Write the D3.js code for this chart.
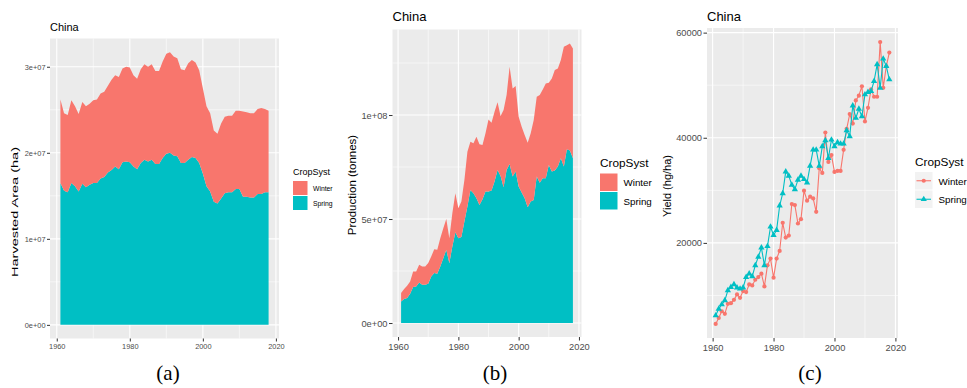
<!DOCTYPE html>
<html>
<head>
<meta charset="utf-8">
<script src="https://cdn.jsdelivr.net/npm/d3@7"></script>
<style>
  body { margin: 0; background: #fff; }
  text { font-family: "Liberation Sans", Arial, sans-serif; }
  text.caption { font-family: "Liberation Serif", "Times New Roman", serif; }
</style>
</head>
<body>
<svg id="chart" width="967" height="388"></svg>
<script>
// ---- data ----
const years = [1961,1962,1963,1964,1965,1966,1967,1968,1969,1970,1971,1972,1973,1974,1975,1976,1977,1978,1979,1980,
  1981,1982,1983,1984,1985,1986,1987,1988,1989,1990,1991,1992,1993,1994,1995,1996,1997,1998,1999,2000,
  2001,2002,2003,2004,2005,2006,2007,2008,2009,2010,2011,2012,2013,2014,2015,2016,2017,2018];

// harvested area, million ha
const areaWinter = [9.7,9.0,9.0,9.6,9.3,9.0,9.5,9.4,9.4,9.6,9.7,9.9,9.9,10.1,10.5,10.6,10.7,10.9,11.0,11.0,
  10.6,10.5,10.9,11.1,11.0,11.1,10.8,10.8,11.2,11.6,11.7,11.5,11.4,10.9,10.8,11.2,11.3,11.1,10.8,9.9,
  9.3,9.1,8.3,8.1,8.7,8.9,8.9,8.9,9.1,9.1,9.9,9.8,9.8,9.8,9.9,10.0,9.7,9.5];
const areaSpring = [16.5,15.6,15.4,16.5,16.1,15.5,16.4,16.0,16.3,16.5,16.5,17.0,17.2,17.7,18.0,18.4,18.1,18.9,19.0,18.9,
  18.4,18.1,18.8,19.2,19.0,19.2,18.7,18.7,19.4,19.9,20.0,19.7,19.6,18.8,18.8,19.2,19.5,19.4,18.8,17.6,
  16.1,15.5,14.3,14.1,14.7,15.3,15.4,15.4,15.8,15.8,14.9,14.9,14.8,14.8,15.2,15.2,15.4,15.4];

// production, million tonnes
const prodWinter = [4.0,4.8,5.9,5.9,7.5,7.2,8.5,8.8,8.8,9.9,9.6,11.5,11.5,13.6,14.4,14.8,12.0,16.0,18.7,14.4,
  17.1,20.0,26.4,23.2,24.0,29.6,29.2,26.1,28.0,34.7,32.6,33.6,32.5,28.8,37.1,36.0,46.7,42.4,41.1,33.6,
  31.7,30.4,31.0,32.8,38.4,38.4,42.1,42.7,45.6,39.5,44.8,48.3,47.2,47.2,57.6,50.1,51.5,52.8];
const prodSpring = [10.4,11.5,12.0,14.1,17.3,17.6,19.5,18.4,18.4,18.9,22.4,24.0,23.7,27.2,31.2,35.2,28.8,36.8,43.7,40.8,
  41.3,48.8,56.0,64.0,62.4,60.0,56.8,59.5,63.2,63.2,63.7,68.0,73.6,70.7,65.3,73.6,76.5,70.4,72.8,65.6,
  62.7,60.0,55.7,58.4,59.2,70.4,67.5,69.6,69.6,76.0,72.8,73.3,75.2,79.2,75.2,83.5,82.9,79.2];

// yield, hg/ha
const yieldWinter = [4590,5730,7000,6500,8410,8540,9170,10190,9550,10830,10640,12100,11910,12990,13500,14140,11720,15730,17010,13380,
  17010,18470,23820,21020,21400,27390,27200,23690,24520,29940,28030,28790,28470,25920,34200,33300,41000,35400,36700,33500,
  33700,33700,37700,41700,44500,42700,47100,48000,49800,43100,45700,49200,47800,47800,58200,49500,53600,56200];
const yieldSpring = [6180,7450,8280,9050,10960,11590,12100,11470,11270,11470,13500,14140,13630,15730,17330,19110,15730,19360,23060,21470,
  22420,27070,29430,33570,32740,31020,30190,31980,32740,32100,31470,34650,37710,37710,34650,38340,39490,36120,39620,38340,
  39110,38850,38850,41400,40260,46120,43760,45480,44080,48220,48660,48850,50760,53950,49490,55030,53630,51080];

const seriesNames = ["Winter", "Spring"];
const colors = { Winter: "#F8766D", Spring: "#00BFC4" };

const xTicks = [1960, 1980, 2000, 2020];
const xMinor = [1970, 1990, 2010];
const areaTicks = [0, 1e7, 2e7, 3e7];
const areaMinor = [5e6, 1.5e7, 2.5e7];
const prodTicks = [0, 5e7, 1e8];
const prodMinor = [2.5e7, 7.5e7, 1.25e8];
const yieldTicks = [20000, 40000, 60000];
const yieldMinor = [10000, 30000, 50000];

// ---- helpers ----
const svg = d3.select("#chart");
svg.append("rect").attr("width", 967).attr("height", 388).attr("fill", "#fff");

function expand([lo, hi], f = 0.05) {
  const d = (hi - lo) * f;
  return [lo - d, hi + d];
}

// ggplot style scientific labels: 1e+07
function sci(v) {
  const [m, e] = v.toExponential(0).split("e");
  return `${m}e${e[0]}${e.slice(1).padStart(2, "0")}`;
}

function drawPanel(o) {
  const g = svg.append("g");
  const x = d3.scaleLinear().domain(expand(d3.extent(years))).range([o.l, o.r]);
  const y = d3.scaleLinear().domain(expand(o.yExtent)).range([o.b, o.t]);

  g.append("rect")
    .attr("x", o.l).attr("y", o.t)
    .attr("width", o.r - o.l).attr("height", o.b - o.t)
    .attr("fill", "#EBEBEB");

  const grid = (vals, w, vertical) =>
    g.append("g").attr("stroke", "#fff").attr("stroke-width", w)
      .selectAll("line").data(vals).join("line")
      .attr("x1", (d) => (vertical ? x(d) : o.l))
      .attr("x2", (d) => (vertical ? x(d) : o.r))
      .attr("y1", (d) => (vertical ? o.t : y(d)))
      .attr("y2", (d) => (vertical ? o.b : y(d)));
  grid(xMinor, 0.55, true);
  grid(o.yMinor, 0.55, false);
  grid(xTicks, 1.1, true);
  grid(o.yTicks, 1.1, false);

  const marks = g.append("g");

  const styleAxis = (a) => {
    a.select(".domain").remove();
    a.selectAll(".tick line").attr("stroke", "#333333");
    a.selectAll(".tick text")
      .attr("fill", "#4D4D4D")
      .attr("font-size", o.tickFont);
  };

  g.append("g")
    .attr("transform", `translate(0,${o.b})`)
    .call(d3.axisBottom(x).tickValues(xTicks).tickFormat(d3.format("d"))
      .tickSize(o.tickLen).tickPadding(2.5))
    .call(styleAxis);

  g.append("g")
    .attr("transform", `translate(${o.l},0)`)
    .call(d3.axisLeft(y).tickValues(o.yTicks).tickFormat(o.fmt)
      .tickSize(o.tickLen).tickPadding(1.5))
    .call(styleAxis);

  g.append("text")
    .attr("x", o.l).attr("y", o.titleY)
    .attr("font-size", o.titleFont)
    .attr("fill", "#000")
    .text("China");

  const yl = g.append("text")
    .attr("transform", `translate(${o.labelX},${o.labelY}) rotate(-90)`)
    .attr("text-anchor", "middle")
    .attr("font-size", o.labelFont)
    .attr("fill", "#000")
    .text(o.yLabel);
  if (o.labelLen) yl.attr("textLength", o.labelLen).attr("lengthAdjust", "spacingAndGlyphs");

  return { g, marks, x, y };
}

function stackedArea(p, winter, spring, unit) {
  const rows = years.map((yr, i) => ({ year: yr, Winter: winter[i] * unit, Spring: spring[i] * unit }));
  const stacked = d3.stack().keys(["Spring", "Winter"])(rows);
  const area = d3.area()
    .x((d) => p.x(d.data.year))
    .y0((d) => p.y(d[0]))
    .y1((d) => p.y(d[1]));
  p.marks.selectAll("path").data(stacked).join("path")
    .attr("fill", (s) => colors[s.key])
    .attr("d", area);
}

function legendFill(lg) {
  const g = svg.append("g");
  g.append("text").attr("x", lg.x).attr("y", lg.titleY)
    .attr("font-size", lg.titleFont).attr("fill", "#000").text("CropSyst");
  seriesNames.forEach((name, i) => {
    const ky = lg.keyY + i * lg.keyH;
    g.append("rect").attr("x", lg.x).attr("y", ky)
      .attr("width", lg.keyW).attr("height", lg.keyH - 1)
      .attr("fill", colors[name]);
    g.append("text").attr("x", lg.x + lg.keyW + lg.gap).attr("y", ky + lg.keyH / 2)
      .attr("dy", "0.35em").attr("font-size", lg.labelFont).attr("fill", "#000").text(name);
  });
}

const symbols = { Winter: d3.symbolCircle, Spring: d3.symbolTriangle };

// ---- (a) harvested area ----
const pa = drawPanel({
  l: 50, r: 279, t: 38.5, b: 338.5,
  yExtent: [0, d3.max(years, (_, i) => (areaWinter[i] + areaSpring[i]) * 1e6)],
  yTicks: areaTicks, yMinor: areaMinor, fmt: sci,
  tickFont: 7.4, tickLen: 3, titleFont: 11, titleY: 31,
  yLabel: "Harvested Area (ha)", labelX: 18, labelY: 212, labelFont: 9.5, labelLen: 130
});
stackedArea(pa, areaWinter, areaSpring, 1e6);
legendFill({ x: 293, titleY: 175, titleFont: 9, keyY: 181, keyW: 14.5, keyH: 15, gap: 5.5, labelFont: 6.8 });

// ---- (b) production ----
const pb = drawPanel({
  l: 392.5, r: 581.5, t: 29.5, b: 337,
  yExtent: [0, d3.max(years, (_, i) => (prodWinter[i] + prodSpring[i]) * 1e6)],
  yTicks: prodTicks, yMinor: prodMinor, fmt: sci,
  tickFont: 9.3, tickLen: 3.5, titleFont: 13, titleY: 21,
  yLabel: "Production (tonnes)", labelX: 356, labelY: 185, labelFont: 11.5
});
stackedArea(pb, prodWinter, prodSpring, 1e6);
legendFill({ x: 600, titleY: 167, titleFont: 11.8, keyY: 173.5, keyW: 17.5, keyH: 18.5, gap: 6, labelFont: 9.8 });

// ---- (c) yield ----
const pc = drawPanel({
  l: 707, r: 898, t: 28, b: 338,
  yExtent: d3.extent(yieldWinter.concat(yieldSpring)),
  yTicks: yieldTicks, yMinor: yieldMinor, fmt: d3.format("d"),
  tickFont: 9.3, tickLen: 3.5, titleFont: 13, titleY: 20.5,
  yLabel: "Yield (hg/ha)", labelX: 671, labelY: 186, labelFont: 11
});

const yieldSeries = [
  { key: "Winter", values: yieldWinter },
  { key: "Spring", values: yieldSpring }
];
const line = d3.line().x((d) => pc.x(d.year)).y((d) => pc.y(d.v));
yieldSeries.forEach((s) => {
  const pts = years.map((yr, i) => ({ year: yr, v: s.values[i] }));
  pc.marks.append("path")
    .attr("d", line(pts))
    .attr("fill", "none")
    .attr("stroke", colors[s.key])
    .attr("stroke-width", 1.1);
  pc.marks.append("g").selectAll("path").data(pts).join("path")
    .attr("transform", (d) => `translate(${pc.x(d.year)},${pc.y(d.v)})`)
    .attr("d", d3.symbol(symbols[s.key], s.key === "Winter" ? 14 : 17))
    .attr("fill", colors[s.key]);
});

// legend for (c): line + point keys on grey
{
  const g = svg.append("g");
  const lx = 915, ky0 = 172, kw = 17.5, kh = 18.5;
  g.append("text").attr("x", lx).attr("y", 166).attr("font-size", 11.8).attr("fill", "#000").text("CropSyst");
  yieldSeries.forEach((s, i) => {
    const ky = ky0 + i * kh;
    g.append("rect").attr("x", lx).attr("y", ky).attr("width", kw).attr("height", kh - 1).attr("fill", "#F2F2F2");
    g.append("line").attr("x1", lx + 1.5).attr("x2", lx + kw - 1.5)
      .attr("y1", ky + (kh - 1) / 2).attr("y2", ky + (kh - 1) / 2)
      .attr("stroke", colors[s.key]).attr("stroke-width", 1.1);
    g.append("path")
      .attr("transform", `translate(${lx + kw / 2},${ky + (kh - 1) / 2})`)
      .attr("d", d3.symbol(symbols[s.key], s.key === "Winter" ? 14 : 17))
      .attr("fill", colors[s.key]);
    g.append("text").attr("x", lx + kw + 6).attr("y", ky + kh / 2)
      .attr("dy", "0.35em").attr("font-size", 9.8).attr("fill", "#000").text(s.key);
  });
}

// ---- captions ----
[["(a)", 168], ["(b)", 495], ["(c)", 810]].forEach(([t, cx]) => {
  svg.append("text")
    .attr("class", "caption")
    .attr("x", cx).attr("y", 380)
    .attr("text-anchor", "middle")
    .attr("font-size", 21)
    .attr("fill", "#000")
    .text(t);
});
</script>
</body>
</html>
